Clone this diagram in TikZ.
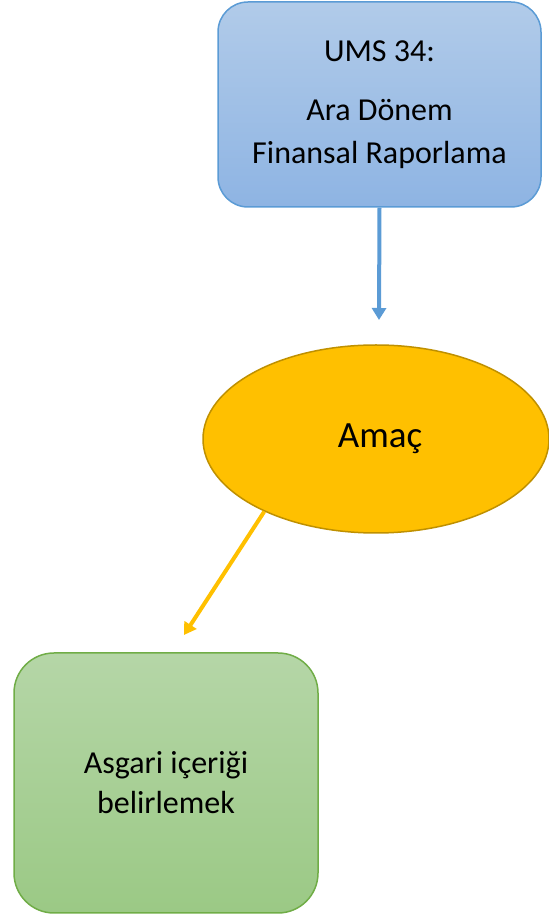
\documentclass[tikz,border=0pt]{standalone}
\usepackage{fontspec}
\setmainfont{Carlito}
\usetikzlibrary{shapes.geometric,arrows.meta}
\definecolor{bluetop}{HTML}{B1CBE9}
\definecolor{bluebot}{HTML}{8EB4E3}
\definecolor{blueline}{HTML}{5B9BD5}
\definecolor{amber}{HTML}{FFC000}
\definecolor{amberline}{HTML}{BF9000}
\definecolor{greentop}{HTML}{B5D6A7}
\definecolor{greenbot}{HTML}{9BC985}
\definecolor{greenline}{HTML}{70AD47}
\tikzset{
  boxtext/.style={align=center,font=\fontsize{32}{43}\selectfont,text=black},
  bluebox/.style={boxtext,draw=blueline,line width=1.5pt,rounded corners=30pt,
    top color=bluetop,bottom color=bluebot,minimum width=323pt,minimum height=205pt,inner sep=0pt},
  goalellipse/.style={boxtext,font=\fontsize{37}{44}\selectfont,ellipse,draw=amberline,line width=1.5pt,fill=amber,
    minimum width=346pt,minimum height=188pt,inner sep=0pt},
  greenbox/.style={boxtext,draw=greenline,line width=1.5pt,rounded corners=40pt,
    top color=greentop,bottom color=greenbot,minimum width=304pt,minimum height=260pt,inner sep=0pt},
  bluearrow/.style={draw=blueline,line width=4pt,-{Triangle[width=14pt,length=12pt]}},
  amberarrow/.style={draw=amber,line width=4pt,-{Triangle[width=14pt,length=12pt]}}
}
\begin{document}
\begin{tikzpicture}[x=1pt,y=1pt]
\useasboundingbox (0,0) rectangle (549,914);
\node[bluebox] (ums) at (379.5,809.5) {UMS 34:\\[16pt]Ara Dönem\\Finansal Raporlama};
\node[goalellipse] (amac) at (376,475) {\hspace*{8pt}\raisebox{-8pt}{Amaç}};
\node[greenbox] (asgari) at (166,131) {Asgari içeriği\\[-3pt]belirlemek};
\coordinate (blueend) at (379,594);
\coordinate (amberend) at (184,279);
\draw[bluearrow] (ums.south) -- (blueend);
\draw[amberarrow] (amac.213) -- (amberend);
\end{tikzpicture}
\end{document}
